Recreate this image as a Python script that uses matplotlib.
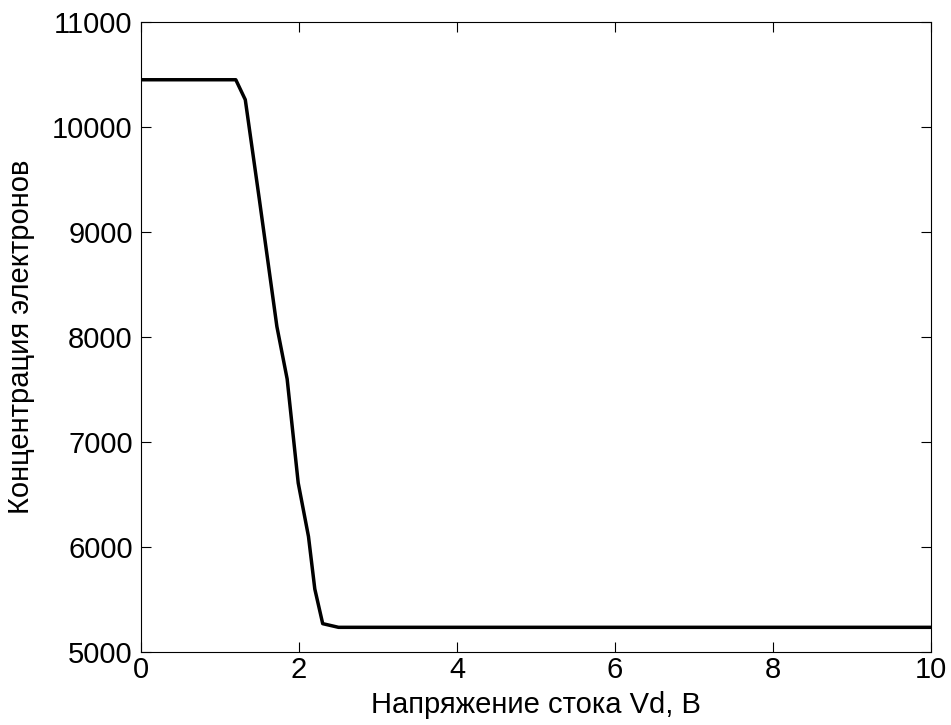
import matplotlib
matplotlib.use('Agg')
import matplotlib.pyplot as plt

# напряжение стока, В
Vd = [0.0, 1.2, 1.32, 1.5, 1.72, 1.85, 1.99, 2.12, 2.2, 2.3, 2.5, 10.0]
# концентрация электронов
n = [10450, 10450, 10260, 9300, 8100, 7600, 6610, 6100, 5600, 5270, 5235, 5235]

plt.rcParams['font.family'] = ['Liberation Sans', 'DejaVu Sans']

fig = plt.figure(figsize=(9.51, 7.25), dpi=100)
ax = fig.add_axes([141/951, 1 - 652/725, (931 - 141)/951, (652 - 22)/725])
ax.plot(Vd, n, color='black', linewidth=2.5)
ax.set_xlim(0, 10)
ax.set_ylim(5000, 11000)
ax.set_xticks([0, 2, 4, 6, 8, 10])
ax.set_yticks(range(5000, 11001, 1000))
ax.tick_params(direction='in', top=True, right=True, labelsize=21, length=7, width=0.8, pad=6)
ax.tick_params(axis='x', pad=3)
ax.set_xlabel('Напряжение стока Vd, B', fontsize=21, labelpad=5)
ax.set_ylabel('Концентрация электронов', fontsize=21, labelpad=12)
plt.savefig('out.png', dpi=100)
